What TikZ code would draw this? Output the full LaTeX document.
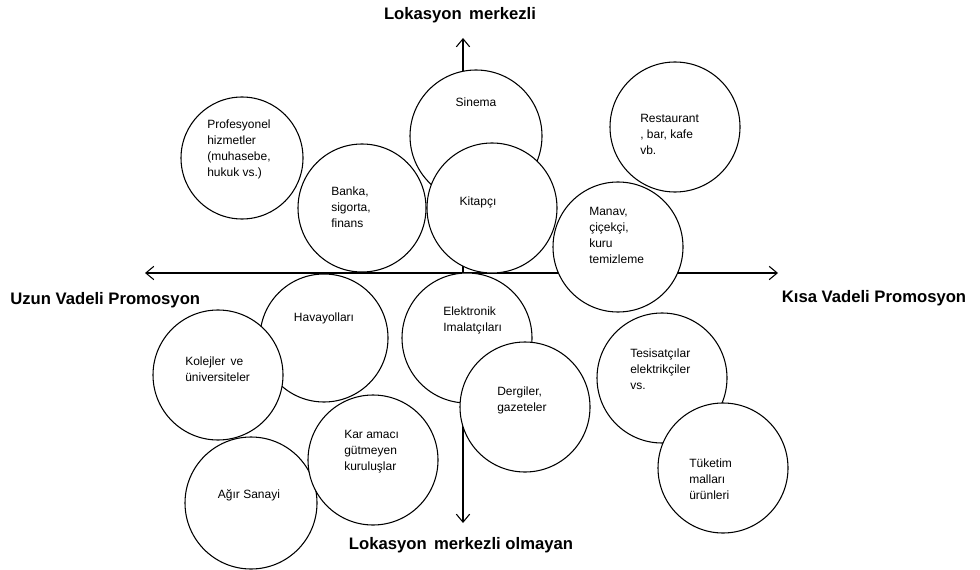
\documentclass[tikz,border=0pt]{standalone}
\usepackage{fontspec}
\setmainfont{Liberation Sans}
\usetikzlibrary{arrows.meta}

\tikzset{
  bubble/.style={circle, draw, fill=white, line width=0.8pt, inner sep=0pt, minimum size=97.5pt},
  bubtext/.style={align=left, inner sep=0pt, font=\fontsize{9}{12}\selectfont},
  axislabel/.style={inner sep=0pt, font=\fontsize{12.5}{15}\selectfont\bfseries},
  axis/.style={line width=0.8pt, {Straight Barb[length=6pt,width=10pt]}-{Straight Barb[length=6pt,width=10pt]}}
}

\begin{document}
\begin{tikzpicture}[x=0.75pt, y=-0.75pt]
\useasboundingbox (0,0) rectangle (980,570);
% Axes
\coordinate (north) at (463,38);
\coordinate (south) at (463,523);
\coordinate (west) at (145,273);
\coordinate (east) at (778,273);
\draw[axis] (north) -- (south);
\draw[axis] (west) -- (east);
\node[axislabel] (top) at (460,15) {Lokasyon\, merkezli};
\node[axislabel] (bottom) at (461,545) {Lokasyon\, merkezli olmayan};
\node[axislabel, anchor=west] (long) at (10,300) {Uzun Vadeli Promosyon};
\node[axislabel] (short) at (874,298) {Kısa Vadeli Promosyon};
% Nodes
\node[bubble, minimum size=99pt] (sinema) at (476,136) {};
\node[bubble] (kitapci) at (492,208) {};
\node[bubble, minimum size=91.5pt] (profesyonel) at (242,158) {};
\node[bubble, minimum size=96pt] (banka) at (362,208) {};
\node[bubble] (restaurant) at (675,127) {};
\node[bubble] (manav) at (618,247) {};
\node[bubble, minimum size=96pt] (havayollari) at (324,338) {};
\node[bubble] (kolejler) at (218,375) {};
\node[bubble] (elektronik) at (467,338) {};
\node[bubble] (dergiler) at (525,407) {};
\node[bubble] (tesisatcilar) at (662,378) {};
\node[bubble] (tuketim) at (723,468) {};
\node[bubble, minimum size=99pt] (agir) at (251,503) {};
\node[bubble] (kar) at (373,460) {};
% Texts
\node[bubtext] (sinema-t) at (476,102) {Sinema};
\node[bubtext] (kitapci-t) at (478,202) {Kitapçı};
\node[bubtext, anchor=west] (profesyonel-t) at (207,149) {Profesyonel\\hizmetler\\(muhasebe,\\hukuk vs.)};
\node[bubtext, anchor=west] (banka-t) at (331,207) {Banka,\\sigorta,\\finans};
\node[bubtext, anchor=west] (restaurant-t) at (640,134) {Restaurant\\, bar, kafe\\vb.};
\node[bubtext, anchor=west] (manav-t) at (589,235) {Manav,\\çiçekçi,\\kuru\\temizleme};
\node[bubtext] (havayollari-t) at (324,318) {Havayolları};
\node[bubtext, anchor=west] (elektronik-t) at (443,320) {Elektronik\\Imalatçıları};
\node[bubtext, anchor=west] (kolejler-t) at (185,369) {Kolejler\, ve\\üniversiteler};
\node[bubtext, anchor=west] (dergiler-t) at (497,400) {Dergiler,\\gazeteler};
\node[bubtext, anchor=west] (tesisatcilar-t) at (630,369) {Tesisatçılar\\elektrikçiler\\vs.};
\node[bubtext, anchor=west] (tuketim-t) at (689,479) {Tüketim\\malları\\ürünleri};
\node[bubtext, anchor=west] (kar-t) at (344,452) {Kar amacı\\gütmeyen\\kuruluşlar};
\node[bubtext] (agir-t) at (249,495) {Ağır Sanayi};
\end{tikzpicture}
\end{document}
